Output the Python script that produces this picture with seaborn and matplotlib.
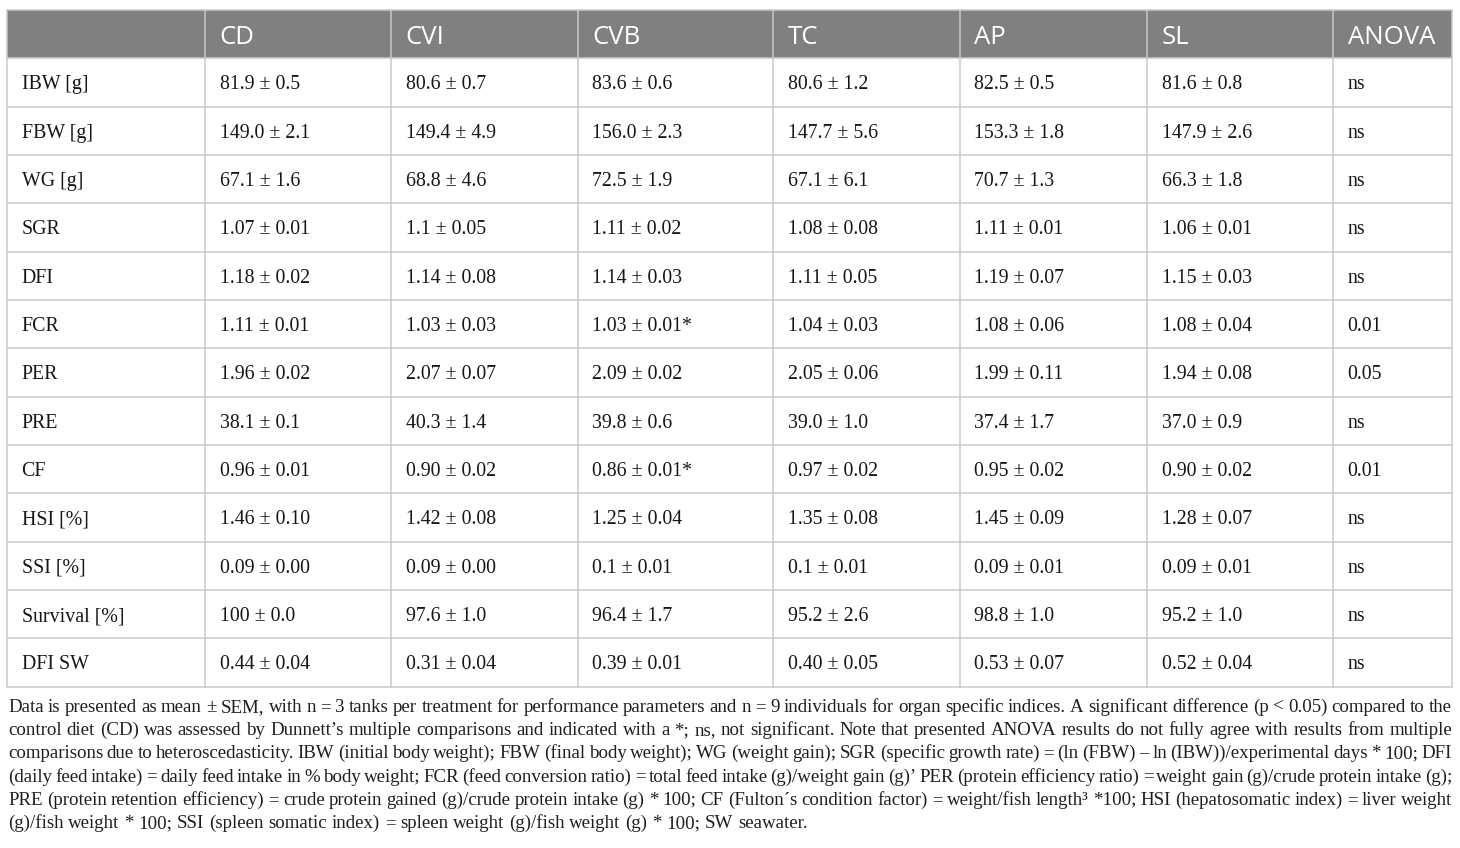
import numpy as np
import pandas as pd
import seaborn as sns
import matplotlib.pyplot as plt
from matplotlib.patches import Rectangle

sns.set_theme(style="white")
plt.rcParams['font.family'] = ['Liberation Serif', 'DejaVu Serif']

# ---------------- data ----------------
treatments = ["CD", "CVI", "CVB", "TC", "AP", "SL"]
params = ["IBW [g]", "FBW [g]", "WG [g]", "SGR", "DFI", "FCR", "PER", "PRE",
          "CF", "HSI [%]", "SSI [%]", "Survival [%]", "DFI SW"]

cd_mean = ["81.9", "149.0", "67.1", "1.07", "1.18", "1.11", "1.96", "38.1", "0.96", "1.46", "0.09", "100", "0.44"]
cd_sem = ["0.5", "2.1", "1.6", "0.01", "0.02", "0.01", "0.02", "0.1", "0.01", "0.10", "0.00", "0.0", "0.04"]
cvi_mean = ["80.6", "149.4", "68.8", "1.1", "1.14", "1.03", "2.07", "40.3", "0.90", "1.42", "0.09", "97.6", "0.31"]
cvi_sem = ["0.7", "4.9", "4.6", "0.05", "0.08", "0.03", "0.07", "1.4", "0.02", "0.08", "0.00", "1.0", "0.04"]
cvb_mean = ["83.6", "156.0", "72.5", "1.11", "1.14", "1.03", "2.09", "39.8", "0.86", "1.25", "0.1", "96.4", "0.39"]
cvb_sem = ["0.6", "2.3", "1.9", "0.02", "0.03", "0.01", "0.02", "0.6", "0.01", "0.04", "0.01", "1.7", "0.01"]
tc_mean = ["80.6", "147.7", "67.1", "1.08", "1.11", "1.04", "2.05", "39.0", "0.97", "1.35", "0.1", "95.2", "0.40"]
tc_sem = ["1.2", "5.6", "6.1", "0.08", "0.05", "0.03", "0.06", "1.0", "0.02", "0.08", "0.01", "2.6", "0.05"]
ap_mean = ["82.5", "153.3", "70.7", "1.11", "1.19", "1.08", "1.99", "37.4", "0.95", "1.45", "0.09", "98.8", "0.53"]
ap_sem = ["0.5", "1.8", "1.3", "0.01", "0.07", "0.06", "0.11", "1.7", "0.02", "0.09", "0.01", "1.0", "0.07"]
sl_mean = ["81.6", "147.9", "66.3", "1.06", "1.15", "1.08", "1.94", "37.0", "0.90", "1.28", "0.09", "95.2", "0.52"]
sl_sem = ["0.8", "2.6", "1.8", "0.01", "0.03", "0.04", "0.08", "0.9", "0.02", "0.07", "0.01", "1.0", "0.04"]
anova = ["ns", "ns", "ns", "ns", "ns", "0.01", "0.05", "ns", "0.01", "ns", "ns", "ns", "ns"]

# (treatment, parameter) pairs different from CD (Dunnett)
significant = [("CVB", "FCR"), ("CVB", "CF")]

footnote_lines = [
    "Data is presented as mean \u00b1 SEM, with n = 3 tanks per treatment for performance parameters and n = 9 individuals for organ specific indices. A significant difference (p < 0.05) compared to the",
    "control diet (CD) was assessed by Dunnett\u2019s multiple comparisons and indicated with a *; ns, not significant. Note that presented ANOVA results do not fully agree with results from multiple",
    "comparisons due to heteroscedasticity. IBW (initial body weight); FBW (final body weight); WG (weight gain); SGR (specific growth rate) = (ln (FBW) \u2013 ln (IBW))/experimental days * 100; DFI",
    "(daily feed intake) = daily feed intake in % body weight; FCR (feed conversion ratio) = total feed intake (g)/weight gain (g)\u2019 PER (protein efficiency ratio) = weight gain (g)/crude protein intake (g);",
    "PRE (protein retention efficiency) = crude protein gained (g)/crude protein intake (g) * 100; CF (Fulton\u00b4s condition factor) = weight/fish length\u00b3 *100; HSI (hepatosomatic index) = liver weight",
    "(g)/fish weight * 100; SSI (spleen somatic index) = spleen weight (g)/fish weight (g) * 100; SW seawater.",
]

means = {"CD": cd_mean, "CVI": cvi_mean, "CVB": cvb_mean, "TC": tc_mean, "AP": ap_mean, "SL": sl_mean}
sems = {"CD": cd_sem, "CVI": cvi_sem, "CVB": cvb_sem, "TC": tc_sem, "AP": ap_sem, "SL": sl_sem}

table = pd.DataFrame(index=params)
for t in treatments:
    table[t] = [m + " \u00b1 " + s for m, s in zip(means[t], sems[t])]
    for tt, p in significant:
        if tt == t:
            table.loc[p, t] = table.loc[p, t] + "*"
table["ANOVA"] = anova

# ---------------- layout ----------------
W, H = 1460, 848
fig = plt.figure(figsize=(W / 100, H / 100), dpi=100)
ax = fig.add_axes([0, 0, 1, 1])
ax.set_xlim(0, W)
ax.set_ylim(H, 0)
ax.axis("off")

col_edges = [7, 205, 391, 578, 773, 960, 1147, 1333, 1452]
top = 9.5
head_h = 48.8
row_h = 48.33
y0 = top + head_h
bottom = y0 + row_h * len(params)

grid_col = "#c9c9c9"
head_bg = "#808080"
text_col = "#161616"
pad = 14.5

ax.add_patch(Rectangle((col_edges[0], top), col_edges[-1] - col_edges[0], head_h,
                       facecolor=head_bg, edgecolor="none", zorder=1))

headers = [""] + list(table.columns)
for j, h in enumerate(headers):
    ax.text(col_edges[j] + pad, top + head_h / 2 + 1, h, color="white", fontsize=18.5,
            family=["Open Sans", "DejaVu Sans"], va="center_baseline", ha="left", zorder=3)

for i, p in enumerate(table.index):
    yc = y0 + row_h * (i + 0.5)
    ax.text(col_edges[0] + pad, yc, p, color=text_col, fontsize=14.3,
            va="center_baseline", ha="left", zorder=3)
    for j, c in enumerate(table.columns):
        ax.text(col_edges[j + 1] + pad, yc, table.loc[p, c], color=text_col, fontsize=14.3,
                va="center_baseline", ha="left", zorder=3)

# grid lines
for i in range(len(params) + 1):
    ax.plot([col_edges[0], col_edges[-1]], [y0 + row_h * i] * 2, color=grid_col, lw=1.1, zorder=2)
ax.plot([col_edges[0], col_edges[-1]], [top, top], color=grid_col, lw=1.1, zorder=2)
for x in col_edges:
    ax.plot([x, x], [top, bottom], color=grid_col, lw=1.1, zorder=2)

# ---------------- justified footnote ----------------
renderer = fig.canvas.get_renderer()
fn_size = 13.6
fn_x0, fn_x1 = 8, 1452
fn_base = 712
fn_step = 23.2
probe1 = ax.text(0, 0, "a a", fontsize=fn_size)
probe2 = ax.text(0, 0, "aa", fontsize=fn_size)
space = probe1.get_window_extent(renderer).width - probe2.get_window_extent(renderer).width
probe1.remove()
probe2.remove()
for k, line in enumerate(footnote_lines):
    yb = fn_base + k * fn_step
    words = line.split(" ")
    objs = [ax.text(0, yb, w, fontsize=fn_size, color="#1e1e1e", va="baseline", ha="left")
            for w in words]
    widths = [o.get_window_extent(renderer).width for o in objs]
    if k < len(footnote_lines) - 1 and len(words) > 1:
        gap = (fn_x1 - fn_x0 - sum(widths)) / (len(words) - 1)
        gap = max(gap, 0.5 * space)
    else:
        gap = space
    x = fn_x0
    for o, w in zip(objs, widths):
        o.set_x(x)
        x += w + gap

fig.savefig("out.png", dpi=100, facecolor="white")
